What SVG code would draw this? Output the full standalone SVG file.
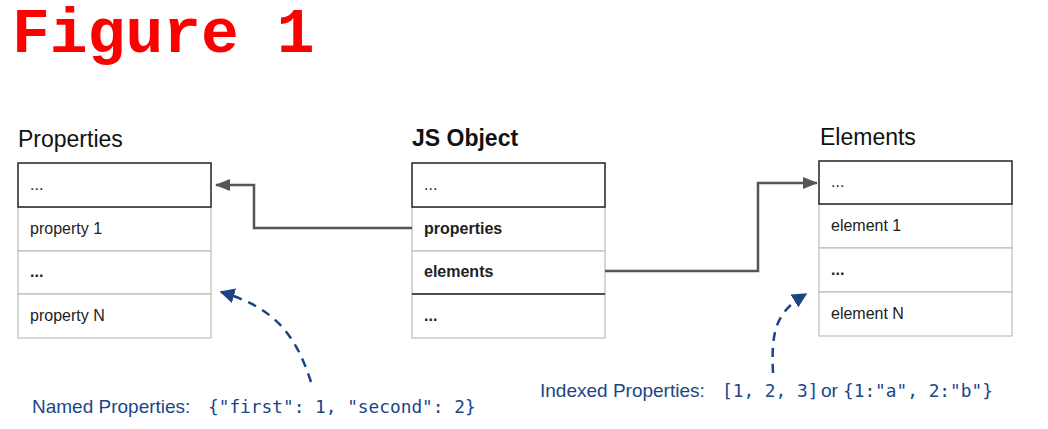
<svg xmlns="http://www.w3.org/2000/svg" width="1048" height="429" viewBox="0 0 1048 429">
  <defs>
    <style>
      .title { font-family: "Liberation Sans", Arial, sans-serif; font-size: 23px; fill: #111; }
      .row { fill: #fff; stroke: #bdbdbd; stroke-width: 1.2; }
      .top { fill: #fff; stroke: #222; stroke-width: 1.5; }
      .t { font-family: "Liberation Sans", Arial, sans-serif; font-size: 16px; fill: #222; }
      .b { font-weight: bold; }
      .conn { fill: none; stroke: #555; stroke-width: 2.5; }
      .dash { fill: none; stroke: #1c4587; stroke-width: 2.5; stroke-dasharray: 9 7; }
      .note { font-family: "Liberation Sans", Arial, sans-serif; font-size: 19px; fill: #1c4587; }
      .mono { font-family: "DejaVu Sans Mono", "Liberation Mono", monospace; font-size: 17.8px; }
    </style>
    <marker id="ag" viewBox="0 0 15 12" refX="14" refY="6" markerWidth="15" markerHeight="12" markerUnits="userSpaceOnUse" orient="auto">
      <path d="M0,0 L15,6 L0,12 z" fill="#555"/>
    </marker>
    <marker id="ab" viewBox="0 0 10 10" refX="9" refY="5" markerWidth="6" markerHeight="6" orient="auto">
      <path d="M0,0 L10,5 L0,10 z" fill="#1c4587"/>
    </marker>
  </defs>
  <rect width="1048" height="429" fill="#fff"/>

  <text x="12" y="52" font-family="Liberation Mono, Courier New, monospace" font-weight="bold" font-size="63" fill="#ff0000">Figure 1</text>

  <g id="properties">
    <text class="title" x="18" y="147">Properties</text>
    <rect class="row" x="18" y="207" width="193" height="44"/>
    <rect class="row" x="18" y="251" width="193" height="43"/>
    <rect class="row" x="18" y="294" width="193" height="44"/>
    <rect class="top" x="18" y="163" width="193" height="44"/>
    <text class="t" x="30" y="190">...</text>
    <text class="t" x="30" y="234">property 1</text>
    <text class="t b" x="30" y="277">...</text>
    <text class="t" x="30" y="321">property N</text>
  </g>

  <g id="jsobject">
    <text class="title b" x="412" y="146">JS Object</text>
    <rect class="row" x="412" y="207" width="193" height="44"/>
    <rect class="row" x="412" y="251" width="193" height="43"/>
    <rect class="row" x="412" y="294" width="193" height="44"/>
    <rect class="top" x="412" y="163" width="193" height="44"/>
    <line x1="412" y1="294" x2="605" y2="294" stroke="#222" stroke-width="1.5"/>
    <text class="t" x="424" y="190">...</text>
    <text class="t b" x="424" y="234">properties</text>
    <text class="t b" x="424" y="277">elements</text>
    <text class="t b" x="424" y="321">...</text>
  </g>

  <g id="elements">
    <text class="title" x="820" y="145">Elements</text>
    <rect class="row" x="819" y="204" width="193" height="44"/>
    <rect class="row" x="819" y="248" width="193" height="44"/>
    <rect class="row" x="819" y="292" width="193" height="44"/>
    <rect class="top" x="819" y="161" width="193" height="43"/>
    <text class="t" x="831" y="187">...</text>
    <text class="t" x="831" y="231">element 1</text>
    <text class="t b" x="831" y="275">...</text>
    <text class="t" x="831" y="319">element N</text>
  </g>

  <g id="connectors">
    <path class="conn" d="M412,228 L254,228 L254,185 L216,185" marker-end="url(#ag)"/>
    <path class="conn" d="M605,271 L758,271 L758,183 L817,183" marker-end="url(#ag)"/>
    <path class="dash" d="M311,382 C296,336 276,308 221,292" marker-end="url(#ab)"/>
    <path class="dash" d="M773,373 C771,330 776,312 806,294" marker-end="url(#ab)"/>
  </g>

  <g id="notes">
    <text class="note" x="32" y="413">Named Properties: <tspan class="mono" x="208">{"first": 1, "second": 2}</tspan></text>
    <text class="note" x="540" y="397">Indexed Properties: <tspan class="mono" x="722">[1, 2, 3]</tspan><tspan x="821">or</tspan><tspan class="mono" x="843">{1:"a", 2:"b"}</tspan></text>
  </g>
</svg>
